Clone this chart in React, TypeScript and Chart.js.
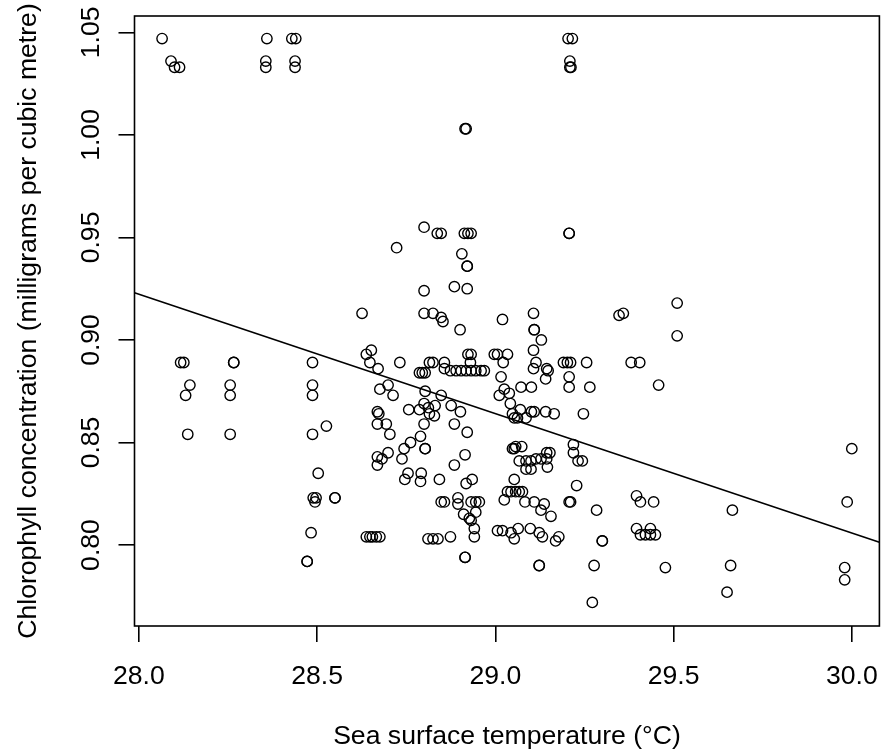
import React, { useEffect, useRef } from "react";
import { Chart, registerables } from "chart.js";

Chart.register(...registerables);

// Sea surface temperature (°C) for each observation
const seaSurfaceTemp: number[] = [
  28.065, 28.09, 28.1, 28.114, 28.359, 28.356, 28.356, 28.429, 28.44, 28.438, 28.438,
  29.204, 29.216, 29.209, 29.209, 29.212, 28.915, 28.918, 29.207, 29.207,
  28.8, 28.837, 28.848, 28.913, 28.923, 28.932,
  28.723, 28.906, 28.921, 28.921, 28.8, 28.885, 28.921,
  28.626, 28.8, 28.825, 28.848, 28.853, 29.02, 28.901,
  28.638, 28.652, 28.648, 28.671, 28.732, 28.787, 28.795, 28.803,
  28.815, 28.825, 28.857, 28.857,
  28.874, 28.89, 28.904, 28.918, 28.932, 28.945, 28.96, 28.969,
  28.923, 28.932, 28.93, 28.997, 29.006, 29.034, 29.022, 29.016,
  28.676, 28.699, 28.713, 28.803, 28.848, 28.669, 28.673, 28.757,
  28.787, 28.8, 28.812, 28.831, 28.815, 28.829, 28.876, 28.902,
  28.669, 28.694, 28.704, 28.8, 28.885, 28.921,
  28.79, 28.762, 28.744, 28.738, 28.803, 28.803,
  28.669, 28.682, 28.699, 28.669, 28.915, 28.885,
  28.755, 28.746, 28.792, 28.79, 28.843, 28.918, 28.935,
  28.848, 28.857, 28.895, 28.895, 28.932, 28.945, 28.955, 28.945,
  28.911, 28.927, 28.932, 28.941, 28.941,
  28.638, 28.648, 28.655, 28.666, 28.676, 28.811, 28.825, 28.839, 28.874,
  28.915, 28.915, 29.006, 29.02, 29.044, 29.053,
  29.048, 29.053, 29.053, 29.025,
  29.011, 29.025, 29.039, 29.042, 29.048, 29.053,
  29.51, 29.347, 29.359, 29.51, 29.107, 29.109, 29.109, 29.129,
  29.107, 29.114, 29.107, 29.144, 29.148,
  29.191, 29.202, 29.211, 29.256, 29.381, 29.405, 29.141, 29.207,
  29.072, 29.101, 29.207, 29.265, 29.458,
  29.07, 29.101, 29.109, 29.141, 29.165, 29.247, 29.062, 29.086,
  29.057, 29.074, 29.219, 29.219,
  29.067, 29.086, 29.1, 29.114, 29.128, 29.144, 29.153, 29.144, 29.146,
  29.086, 29.1, 29.232, 29.244, 29.228,
  29.034, 29.044, 29.057, 29.067, 29.076,
  29.083, 29.109, 29.137, 29.128, 29.156, 29.207, 29.211, 29.284,
  29.396, 29.407, 29.444,
  29.064, 29.098, 29.123, 29.132, 29.169, 29.178, 29.3, 29.3,
  29.396, 29.407, 29.421, 29.435, 29.435, 29.449,
  29.123, 29.123, 29.277, 29.477,
  30.0, 29.665, 29.987, 29.66, 29.98, 29.65, 29.272, 29.98,
  28.117, 28.126, 28.266, 28.266, 28.487,
  28.143, 28.131, 28.256, 28.256, 28.487, 28.487,
  28.137, 28.256, 28.487, 28.526, 28.503,
  28.489, 28.494, 28.497, 28.55, 28.55, 28.483, 28.472, 28.472,
];

// Chlorophyll concentration (mg per cubic metre), same order as above
const chlorophyll: number[] = [
  1.047, 1.036, 1.033, 1.033, 1.047, 1.036, 1.033, 1.047, 1.047, 1.036, 1.033,
  1.047, 1.047, 1.036, 1.033, 1.033, 1.003, 1.003, 0.952, 0.952,
  0.955, 0.952, 0.952, 0.952, 0.952, 0.952,
  0.945, 0.942, 0.936, 0.936, 0.924, 0.926, 0.925,
  0.913, 0.913, 0.913, 0.911, 0.909, 0.91, 0.905,
  0.893, 0.895, 0.889, 0.886, 0.889, 0.884, 0.884, 0.884,
  0.889, 0.889, 0.889, 0.886,
  0.885, 0.885, 0.885, 0.885, 0.885, 0.885, 0.885, 0.885,
  0.893, 0.893, 0.889, 0.893, 0.893, 0.893, 0.889, 0.882,
  0.876, 0.878, 0.873, 0.875, 0.873, 0.865, 0.864, 0.866,
  0.866, 0.869, 0.867, 0.868, 0.864, 0.863, 0.868, 0.865,
  0.859, 0.859, 0.854, 0.859, 0.859, 0.855,
  0.853, 0.85, 0.847, 0.842, 0.847, 0.847,
  0.843, 0.842, 0.845, 0.839, 0.844, 0.839,
  0.835, 0.832, 0.835, 0.831, 0.832, 0.83, 0.832,
  0.821, 0.821, 0.823, 0.82, 0.821, 0.821, 0.821, 0.816,
  0.815, 0.813, 0.812, 0.808, 0.804,
  0.804, 0.804, 0.804, 0.804, 0.804, 0.803, 0.803, 0.803, 0.804,
  0.794, 0.794, 0.807, 0.807, 0.806, 0.803,
  0.847, 0.847, 0.832, 0.822,
  0.873, 0.876, 0.874, 0.869, 0.864, 0.862,
  0.918, 0.912, 0.913, 0.902, 0.913, 0.905, 0.905, 0.9,
  0.895, 0.889, 0.886, 0.886, 0.885,
  0.889, 0.889, 0.889, 0.889, 0.889, 0.889, 0.881, 0.882,
  0.877, 0.877, 0.877, 0.877, 0.878,
  0.866, 0.865, 0.865, 0.865, 0.864, 0.864, 0.862, 0.862,
  0.848, 0.848, 0.849, 0.845,
  0.841, 0.841, 0.841, 0.842, 0.842, 0.845, 0.845, 0.842, 0.838,
  0.837, 0.837, 0.841, 0.841, 0.829,
  0.826, 0.826, 0.826, 0.826, 0.826,
  0.821, 0.821, 0.82, 0.817, 0.814, 0.821, 0.821, 0.817,
  0.824, 0.821, 0.821,
  0.808, 0.808, 0.806, 0.804, 0.802, 0.804, 0.802, 0.802,
  0.808, 0.805, 0.805, 0.808, 0.805, 0.805,
  0.79, 0.79, 0.79, 0.789,
  0.847, 0.817, 0.821, 0.79, 0.789, 0.777, 0.772, 0.783,
  0.889, 0.889, 0.889, 0.889, 0.889,
  0.878, 0.873, 0.878, 0.873, 0.878, 0.873,
  0.854, 0.854, 0.854, 0.858, 0.835,
  0.823, 0.821, 0.823, 0.823, 0.823, 0.806, 0.792, 0.792,
];

const xTickValues = [28.0, 28.5, 29.0, 29.5, 30.0];
const yTickValues = [0.8, 0.85, 0.9, 0.95, 1.0, 1.05];
const xLimits = [27.9876, 30.0774];
const yLimits = [0.7605, 1.058];
// least-squares fit: chlorophyll = intercept + slope * temperature
const fitIntercept = 2.5536;
const fitSlope = -0.05826;

const FONT_FAMILY = '"Liberation Sans", Arial, Helvetica, sans-serif';
const FONT_SIZE = 26.6;

export default function App() {
  const canvasRef = useRef<HTMLCanvasElement | null>(null);

  useEffect(() => {
    document.body.style.margin = "0";
    const canvas = canvasRef.current;
    if (!canvas) return;

    const points = seaSurfaceTemp.map((x, i) => ({ x, y: chlorophyll[i] }));
    const fitLine = xLimits.map((x) => ({ x, y: fitIntercept + fitSlope * x }));

    const boxPlugin = {
      id: "rBox",
      afterDraw(chart: any) {
        const { ctx, chartArea: a } = chart;
        ctx.save();
        ctx.strokeStyle = "#000";
        ctx.lineWidth = 1.6;
        ctx.strokeRect(a.left, a.top, a.right - a.left, a.bottom - a.top);
        ctx.fillStyle = "#000";
        ctx.font = `${FONT_SIZE}px ${FONT_FAMILY}`;
        ctx.textAlign = "center";
        ctx.textBaseline = "alphabetic";
        // x tick labels (R style, below the tick marks)
        const xs = chart.scales.x;
        xs.ticks.forEach((t: any) => {
          const px = xs.getPixelForValue(t.value);
          ctx.fillText(Number(t.value).toFixed(1), px, a.bottom + 58);
        });
        // y tick labels, rotated parallel to the axis
        const ys = chart.scales.y;
        ys.ticks.forEach((t: any) => {
          const py = ys.getPixelForValue(t.value);
          ctx.save();
          ctx.translate(a.left - 36, py);
          ctx.rotate(-Math.PI / 2);
          ctx.fillText(Number(t.value).toFixed(2), 0, 0);
          ctx.restore();
        });
        ctx.restore();
      },
    };

    const gridOpts = {
      drawOnChartArea: false,
      drawTicks: true,
      tickLength: 16,
      color: "#000",
      lineWidth: 1.6,
    };

    const chart = new Chart(canvas, {
      type: "scatter",
      data: {
        datasets: [
          {
            type: "scatter",
            data: points,
            pointStyle: "circle",
            pointRadius: 5.2,
            pointHoverRadius: 5.2,
            borderColor: "#000",
            backgroundColor: "rgba(0,0,0,0)",
            borderWidth: 1.4,
          } as any,
          {
            type: "line",
            data: fitLine,
            borderColor: "#000",
            borderWidth: 1.6,
            pointRadius: 0,
            fill: false,
            tension: 0,
          } as any,
        ],
      },
      options: {
        responsive: false,
        animation: false,
        devicePixelRatio: 1,
        events: [],
        layout: { padding: { top: 16, right: 3, left: 0, bottom: 0 } },
        plugins: { legend: { display: false }, tooltip: { enabled: false } },
        scales: {
          x: {
            type: "linear",
            min: xLimits[0],
            max: xLimits[1],
            afterBuildTicks: (s: any) => {
              s.ticks = xTickValues.map((v) => ({ value: v }));
            },
            afterFit: (s: any) => {
              s.height = 130;
              s.paddingLeft = 0;
              s.paddingRight = 0;
            },
            border: { display: false },
            grid: gridOpts,
            ticks: { display: false },
            title: {
              display: true,
              text: "Sea surface temperature (°C)",
              color: "#000",
              font: { family: FONT_FAMILY, size: FONT_SIZE },
              padding: { top: 0, bottom: 3.3 },
            },
          },
          y: {
            type: "linear",
            min: yLimits[0],
            max: yLimits[1],
            afterBuildTicks: (s: any) => {
              s.ticks = yTickValues.map((v) => ({ value: v }));
            },
            afterFit: (s: any) => {
              s.width = 134.5;
              s.paddingTop = 0;
              s.paddingBottom = 0;
            },
            border: { display: false },
            grid: gridOpts,
            ticks: { display: false },
            title: {
              display: true,
              text: "Chlorophyll concentration (milligrams per cubic metre)",
              color: "#000",
              font: { family: FONT_FAMILY, size: FONT_SIZE },
              padding: { top: 12.8, bottom: 0 },
            },
          },
        },
      } as any,
      plugins: [boxPlugin],
    });

    return () => chart.destroy();
  }, []);

  return (
    <div style={{ width: 886, height: 756, background: "#fff" }}>
      <canvas ref={canvasRef} width={886} height={756} style={{ display: "block" }} />
    </div>
  );
}
